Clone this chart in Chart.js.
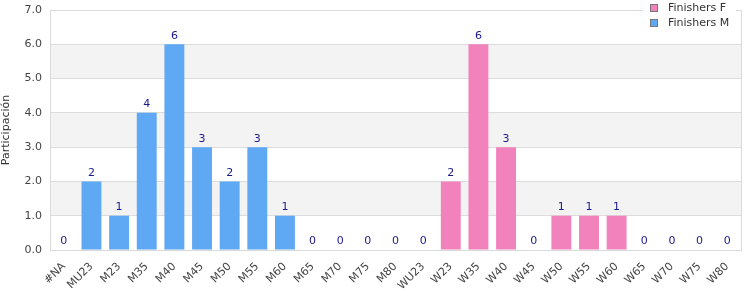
<!DOCTYPE html>
<html>
<head>
<meta charset="utf-8">
<script src="https://cdn.jsdelivr.net/npm/chart.js@4/dist/chart.umd.min.js"></script>
<style>
  html, body { margin: 0; padding: 0; background: #fff; }
  #wrap { width: 750px; height: 300px; }
</style>
</head>
<body>
<div id="wrap"><canvas id="barChart"></canvas></div>
<script>
const categories = ['#NA', 'MU23', 'M23', 'M35', 'M40', 'M45', 'M50', 'M55', 'M60', 'M65', 'M70', 'M75', 'M80',
    'WU23', 'W23', 'W35', 'W40', 'W45', 'W50', 'W55', 'W60', 'W65', 'W70', 'W75', 'W80'];
const finishersM = [0, 2, 1, 4, 6, 3, 2, 3, 1, 0, 0, 0, 0,
    null, null, null, null, null, null, null, null, null, null, null, null];
const finishersF = [null, null, null, null, null, null, null, null, null, null, null, null, null,
    0, 2, 6, 3, 0, 1, 1, 1, 0, 0, 0, 0];
const yTicks = [0, 1, 2, 3, 4, 5, 6, 7];

const FONT = "'DejaVu Sans', sans-serif";

// grey bands between alternating grid lines + box border
const bandsPlugin = {
    id: 'bands',
    beforeDraw(chart) {
        const { ctx, chartArea, scales } = chart;
        ctx.save();
        ctx.fillStyle = '#f3f3f3';
        for (let i = 1; i < yTicks.length - 1; i += 2) {
            const y1 = scales.y.getPixelForValue(yTicks[i + 1]);
            const y0 = scales.y.getPixelForValue(yTicks[i]);
            ctx.fillRect(chartArea.left, y1, chartArea.right - chartArea.left, y0 - y1);
        }
        ctx.restore();
    },
    afterDraw(chart) {
        const { ctx, chartArea } = chart;
        ctx.save();
        ctx.strokeStyle = '#d9d9d9';
        ctx.lineWidth = 1;
        ctx.beginPath();
        ctx.moveTo(chartArea.left, chartArea.top + 0.5);
        ctx.lineTo(chartArea.right + 0.5, chartArea.top + 0.5);
        ctx.lineTo(chartArea.right + 0.5, chartArea.bottom);
        ctx.stroke();
        ctx.restore();
    }
};

// value labels above each bar (zeros too)
const valueLabels = {
    id: 'valueLabels',
    afterDatasetsDraw(chart) {
        const { ctx } = chart;
        ctx.save();
        ctx.fillStyle = '#1a1a8c';
        ctx.font = '11px ' + FONT;
        ctx.textAlign = 'center';
        ctx.textBaseline = 'bottom';
        chart.data.datasets.forEach((ds, di) => {
            chart.getDatasetMeta(di).data.forEach((bar, i) => {
                if (ds.data[i] === null) return;
                ctx.fillText(ds.data[i], bar.x, bar.y - 3);
            });
        });
        ctx.restore();
    }
};

// legend box sitting over the top-right corner of the plot
const cornerLegend = {
    id: 'cornerLegend',
    afterDraw(chart) {
        const { ctx } = chart;
        const items = [chart.data.datasets[1], chart.data.datasets[0]];
        ctx.save();
        ctx.fillStyle = '#fff';
        ctx.fillRect(643, 0, 93, 31);
        ctx.font = '11px ' + FONT;
        ctx.textBaseline = 'middle';
        items.forEach((ds, i) => {
            const y = 8 + i * 15;
            ctx.fillStyle = ds.backgroundColor;
            ctx.fillRect(650.5, y - 3.5, 7, 7);
            ctx.strokeStyle = '#777';
            ctx.lineWidth = 1;
            ctx.strokeRect(650.5, y - 3.5, 7, 7);
            ctx.fillStyle = '#333';
            ctx.fillText(ds.label, 668, y);
        });
        ctx.restore();
    }
};

const ctx = document.getElementById('barChart').getContext('2d');

const barChart = new Chart(ctx, {
    type: 'bar',
    data: {
        labels: categories,
        datasets: [
            {
                label: 'Finishers M',
                data: finishersM,
                backgroundColor: '#5fa8f4',
                borderWidth: 0
            },
            {
                label: 'Finishers F',
                data: finishersF,
                backgroundColor: '#f282bb',
                borderWidth: 0
            }
        ]
    },
    options: {
        responsive: true,
        maintainAspectRatio: false,
        animation: false,
        layout: {
            padding: { top: 10, right: 9, left: 0, bottom: 0 }
        },
        plugins: {
            legend: { display: false },
            tooltip: { enabled: false }
        },
        scales: {
            x: {
                stacked: true,
                grid: { display: false },
                border: { color: '#d9d9d9' },
                ticks: {
                    color: '#444',
                    font: { family: FONT, size: 11 },
                    maxRotation: 45,
                    minRotation: 45,
                    autoSkip: false,
                    padding: 2
                },
                afterFit(scale) { scale.height = 50; }
            },
            y: {
                stacked: true,
                min: 0,
                max: 7,
                ticks: {
                    stepSize: 1,
                    color: '#444',
                    font: { family: FONT, size: 11 },
                    padding: 8,
                    callback: (v) => v.toFixed(1)
                },
                grid: { color: '#dcdcdc', drawTicks: false },
                border: { color: '#d9d9d9' },
                title: {
                    display: true,
                    text: 'Participación',
                    color: '#333',
                    font: { family: FONT, size: 11 },
                    padding: 0
                },
                afterFit(scale) {
                    scale.width = 50;
                    scale.paddingTop = 2;
                    scale.paddingBottom = 2;
                }
            }
        }
    },
    plugins: [bandsPlugin, valueLabels, cornerLegend]
});
</script>
</body>
</html>
